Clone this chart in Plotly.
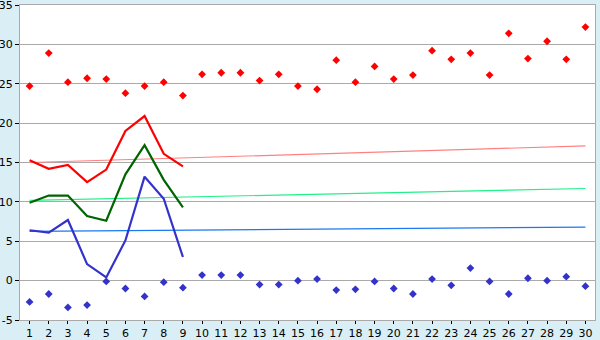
import plotly.graph_objects as go

days = list(range(1, 31))
max_temp = [24.7, 28.9, 25.2, 25.7, 25.6, 23.8, 24.7, 25.2, 23.5, 26.2,
            26.4, 26.4, 25.4, 26.2, 24.7, 24.3, 28.0, 25.2, 27.2, 25.6,
            26.1, 29.2, 28.1, 28.9, 26.1, 31.4, 28.2, 30.4, 28.1, 32.2]
min_temp = [-2.7, -1.7, -3.4, -3.1, -0.1, -1.0, -2.0, -0.2, -0.9, 0.7,
            0.7, 0.7, -0.5, -0.5, 0.0, 0.2, -1.2, -1.1, -0.1, -1.0,
            -1.7, 0.2, -0.6, 1.6, -0.1, -1.7, 0.3, 0.0, 0.5, -0.7]
line_days = list(range(1, 10))
high_line = [15.3, 14.2, 14.7, 12.5, 14.1, 19.0, 20.9, 16.1, 14.5]
mean_line = [9.9, 10.8, 10.8, 8.2, 7.6, 13.5, 17.2, 12.8, 9.3]
low_line = [6.4, 6.1, 7.7, 2.1, 0.4, 5.1, 13.2, 10.4, 3.0]
trend_days = [1, 30]
trend_high = [15.0, 17.1]
trend_mean = [10.2, 11.7]
trend_low = [6.25, 6.8]
y_ticks = [-5, 0, 5, 10, 15, 20, 25, 30, 35]
y_labels = ["-5", "0", "5", "10", "15", "20", "25", "30", "35"]

fig = go.Figure()
fig.add_trace(go.Scatter(x=trend_days, y=trend_high, mode="lines",
                         line=dict(color="#FF8080", width=1.2)))
fig.add_trace(go.Scatter(x=trend_days, y=trend_mean, mode="lines",
                         line=dict(color="#22F088", width=1.2)))
fig.add_trace(go.Scatter(x=trend_days, y=trend_low, mode="lines",
                         line=dict(color="#1A78F0", width=1.2)))
fig.add_trace(go.Scatter(x=line_days, y=high_line, mode="lines",
                         line=dict(color="#FF0000", width=2.2)))
fig.add_trace(go.Scatter(x=line_days, y=mean_line, mode="lines",
                         line=dict(color="#006400", width=2.2)))
fig.add_trace(go.Scatter(x=line_days, y=low_line, mode="lines",
                         line=dict(color="#3333CC", width=2.2)))
fig.add_trace(go.Scatter(x=days, y=max_temp, mode="markers",
                         marker=dict(symbol="diamond", size=6, color="#FF0000",
                                     line=dict(width=0))))
fig.add_trace(go.Scatter(x=days, y=min_temp, mode="markers",
                         marker=dict(symbol="diamond", size=6, color="#3333CC",
                                     line=dict(width=0))))

fig.update_layout(
    width=600, height=340,
    margin=dict(l=20, r=5, t=5, b=20),
    paper_bgcolor="#DAEFF5",
    plot_bgcolor="#FFFFFF",
    showlegend=False,
    font=dict(family="DejaVu Sans", size=11, color="#000000"),
)
fig.update_xaxes(range=[0.5, 30.5], tickvals=days, ticks="outside",
                 ticklen=3, tickcolor="#000000", showgrid=False,
                 showline=True, linecolor="#AAAAAA", mirror=True,
                 zeroline=False, tickfont=dict(size=11), automargin=False)
fig.update_yaxes(range=[-5, 35.001], tickvals=y_ticks, ticktext=y_labels,
                 ticks="outside", ticklen=4, tickcolor="#000000",
                 showgrid=True, gridcolor="#AAAAAA", gridwidth=1,
                 showline=True, linecolor="#AAAAAA", mirror=True,
                 zeroline=False, tickfont=dict(size=11), automargin=False,
                 ticklabeloverflow="allow", ticklabelstandoff=0)

fig.write_html("out.html")
